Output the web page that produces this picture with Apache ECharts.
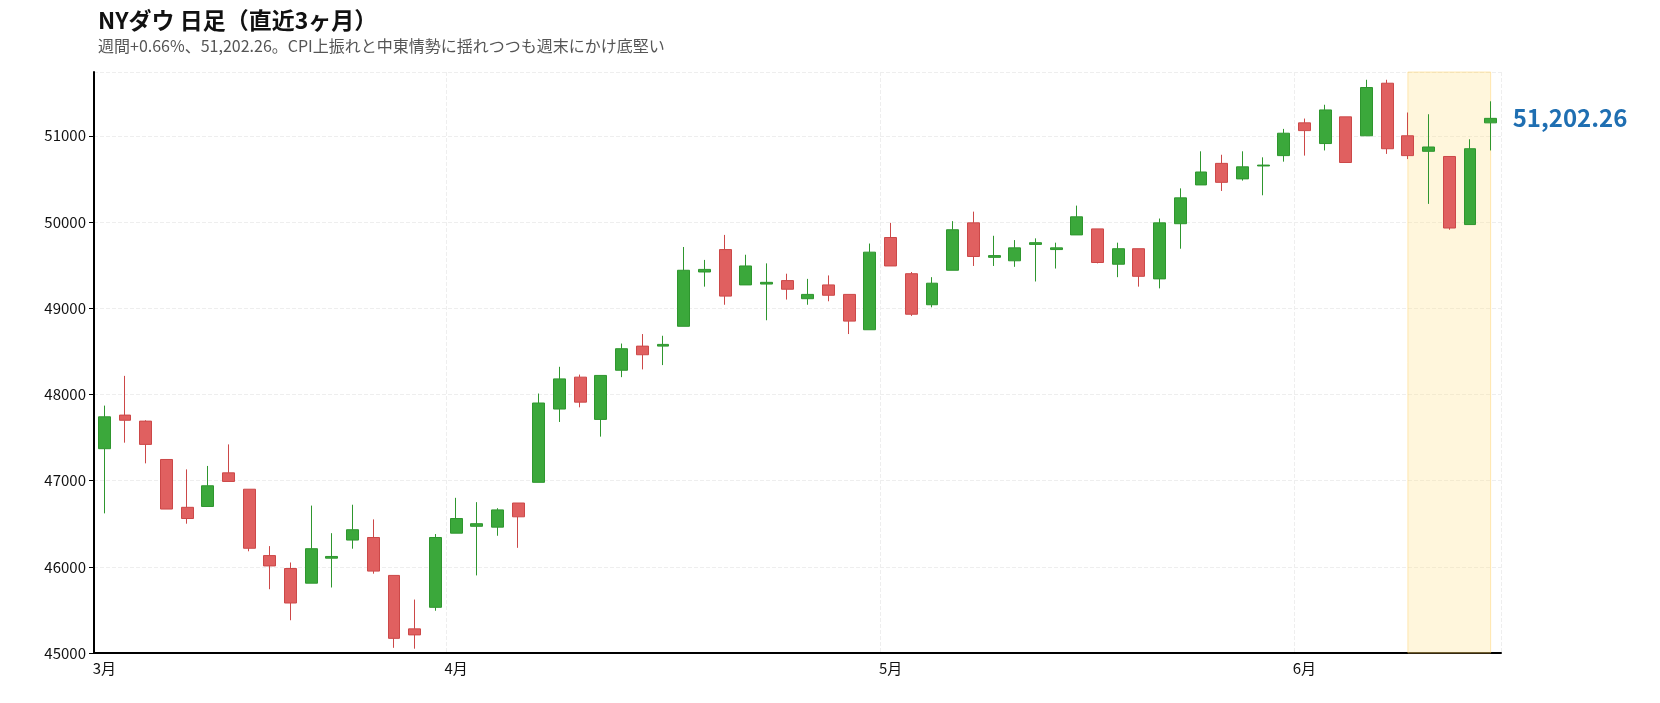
<!DOCTYPE html>
<html><head><meta charset="utf-8">
<script src="https://cdn.jsdelivr.net/npm/echarts@6/dist/echarts.min.js"></script>
<style>html,body{margin:0;padding:0;background:#fff}#c{width:1660px;height:703px}</style>
</head><body><div id="c"></div>
<script>
const dates = ["3/2","3/3","3/4","3/5","3/6","3/9","3/10","3/11","3/12","3/13","3/16","3/17","3/18","3/19","3/20","3/23","3/24",
"4/1","4/2","4/3","4/6","4/7","4/8","4/9","4/10","4/13","4/14","4/15","4/16","4/17","4/20","4/21","4/22","4/23","4/24","4/27","4/28","4/29",
"5/1","5/4","5/5","5/6","5/7","5/8","5/11","5/12","5/13","5/14","5/15","5/18","5/19","5/20","5/21","5/22","5/26","5/27","5/28","5/29",
"6/1","6/2","6/3","6/4","6/5","6/8","6/9","6/10","6/11","6/12"];
// [open, close, low, high]
const ohlc = [
[47370,47740,46620,47870],[47760,47700,47440,48215],[47690,47420,47200,47700],[47245,46670,46670,47245],[46690,46560,46500,47130],
[46700,46940,46700,47170],[47090,46990,46990,47420],[46900,46215,46180,46900],[46130,46010,45740,46240],[45980,45580,45380,46050],
[45810,46210,45810,46710],[46100,46120,45760,46390],[46310,46430,46210,46720],[46340,45950,45920,46550],[45900,45170,45060,45900],
[45280,45210,45050,45620],[45530,46340,45490,46380],
[46390,46560,46390,46800],[46470,46500,45900,46750],[46460,46660,46360,46680],[46740,46580,46220,46740],[46980,47900,46980,48010],
[47830,48180,47680,48320],[48200,47910,47850,48230],[47710,48220,47510,48220],[48280,48530,48200,48590],[48560,48460,48290,48700],
[48560,48580,48340,48680],[48790,49440,48790,49710],[49420,49450,49250,49560],[49680,49140,49040,49850],[49270,49490,49270,49620],
[49280,49300,48860,49520],[49320,49220,49100,49400],[49110,49160,49040,49340],[49270,49150,49080,49380],[49160,48850,48700,49160],
[48750,49650,48750,49750],
[49820,49490,49490,49990],[49400,48930,48910,49420],[49040,49290,49010,49360],[49440,49910,49440,50010],[49990,49600,49490,50120],
[49590,49610,49490,49840],[49550,49700,49480,49790],[49740,49760,49310,49810],[49680,49700,49460,49760],[49850,50060,49850,50190],
[49920,49530,49520,49920],[49510,49690,49360,49760],[49690,49370,49250,49690],[49340,49990,49230,50040],[49980,50280,49690,50390],
[50430,50580,50430,50820],[50680,50460,50360,50780],[50500,50640,50480,50820],[50650,50660,50310,50750],[50770,51030,50700,51080],
[51150,51060,50770,51200],[50910,51300,50830,51360],[51220,50690,50690,51220],[51000,51560,51000,51650],[51610,50850,50790,51650],
[51000,50770,50730,51270],[50820,50870,50210,51250],[50760,49930,49910,50760],[49970,50850,49970,50960],[51150,51202.26,50830,51400]
];
const title = "NYダウ 日足（直近3ヶ月）";
const subtitle = "週間+0.66%、51,202.26。CPI上振れと中東情勢に揺れつつも週末にかけ底堅い";
const lastLabel = "51,202.26";
const highlightFrom = "6/8", highlightTo = "6/12";

const monthStart = i => i===0 || dates[i].split('/')[0] !== dates[i-1].split('/')[0];
const chart = echarts.init(document.getElementById('c'));
const last = dates.length-1;
chart.setOption({
  animation:false,
  textStyle:{fontFamily:"'Noto Sans CJK JP','Noto Sans',sans-serif"},
  title:{text:title,subtext:subtitle,left:93,top:4,itemGap:6,
    textStyle:{fontSize:23,fontWeight:'bold',color:'#111'},
    subtextStyle:{fontSize:16,color:'#555'}},
  grid:{left:94,right:159,top:72,bottom:50},
  xAxis:{type:'category',data:dates,boundaryGap:true,
    axisLine:{lineStyle:{color:'#000',width:2}},
    axisTick:{alignWithLabel:true,interval:monthStart,lineStyle:{color:'#000'}},
    axisLabel:{interval:monthStart,color:'#111',fontSize:15,formatter:v=>v.split('/')[0]+'月'},
    splitLine:{show:true,interval:monthStart,lineStyle:{type:'dashed',color:'#eee'}}},
  yAxis:{type:'value',min:45000,max:51740,interval:1000,
    axisLine:{show:true,lineStyle:{color:'#000',width:2}},
    axisTick:{show:true,lineStyle:{color:'#000'}},
    axisLabel:{color:'#111',fontSize:15,showMaxLabel:false,formatter:v=>String(v)},
    splitLine:{lineStyle:{type:'dashed',color:'#eee'}}},
  series:[{type:'candlestick',data:ohlc,barWidth:'60%',
    itemStyle:{color:'#3ba83b',borderColor:'#2e962e',color0:'#e06060',borderColor0:'#cc4848'},
    markArea:{silent:true,itemStyle:{color:'rgba(255,225,140,0.3)',borderColor:'rgba(255,200,80,0.4)',borderWidth:1},
      data:[[{xAxis:highlightFrom},{xAxis:highlightTo}]]},
    markPoint:{symbol:'circle',symbolSize:0,
      data:[{coord:[last,ohlc[last][1]],value:lastLabel}],
      label:{show:true,position:'right',distance:22,formatter:lastLabel,color:'#1f6fb2',fontSize:24,fontWeight:'bold'}}
  }]
});
</script></body></html>
